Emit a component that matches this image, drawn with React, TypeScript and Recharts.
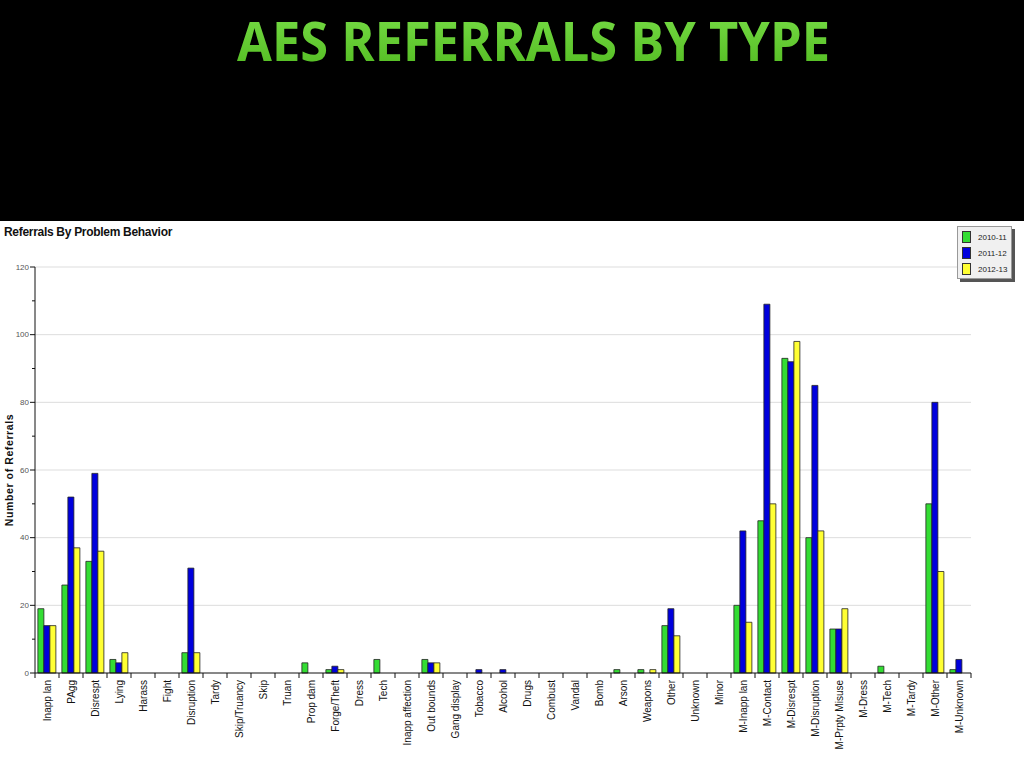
import { Bar, BarChart, CartesianGrid, Legend, XAxis, YAxis } from "recharts";

const categories = [
  "Inapp lan", "PAgg", "Disrespt", "Lying", "Harass", "Fight", "Disruption", "Tardy",
  "Skip/Truancy", "Skip", "Truan", "Prop dam", "Forge/Theft", "Dress", "Tech",
  "Inapp affection", "Out bounds", "Gang display", "Tobacco", "Alcohol", "Drugs",
  "Combust", "Vandal", "Bomb", "Arson", "Weapons", "Other", "Unknown", "Minor",
  "M-Inapp lan", "M-Contact", "M-Disrespt", "M-Disruption", "M-Prpty Misuse",
  "M-Dress", "M-Tech", "M-Tardy", "M-Other", "M-Unknown",
];

const y2010 = [19, 26, 33, 4, 0, 0, 6, 0, 0, 0, 0, 3, 1, 0, 4, 0, 4, 0, 0, 0, 0, 0, 0, 0, 1, 1, 14, 0, 0, 20, 45, 93, 40, 13, 0, 2, 0, 50, 1];
const y2011 = [14, 52, 59, 3, 0, 0, 31, 0, 0, 0, 0, 0, 2, 0, 0, 0, 3, 0, 1, 1, 0, 0, 0, 0, 0, 0, 19, 0, 0, 42, 109, 92, 85, 13, 0, 0, 0, 80, 4];
const y2012 = [14, 37, 36, 6, 0, 0, 6, 0, 0, 0, 0, 0, 1, 0, 0, 0, 3, 0, 0, 0, 0, 0, 0, 0, 0, 1, 11, 0, 0, 15, 50, 98, 42, 19, 0, 0, 0, 30, 0];

const seriesNames = ["2010-11", "2011-12", "2012-13"];
const seriesColors = ["#33dd33", "#0000dd", "#ffff33"];
const yTicks = [0, 10, 20, 30, 40, 50, 60, 70, 80, 90, 100, 110, 120];
const gridValues = [20, 40, 60, 80, 100, 120];

const data = categories.map((name, i) => ({
  name,
  a: y2010[i],
  b: y2011[i],
  c: y2012[i],
}));

const W = 1024;
const H = 547;
const TOP = 46;
const LEFT = 35;
const RIGHT = 53;
const BOTTOM_AXIS = 95;
const plotBottom = H - BOTTOM_AXIS;
const band = (W - LEFT - RIGHT) / categories.length;
const font = "'Liberation Sans', Arial, sans-serif";

function XTick(props: any) {
  const { x, payload, index } = props;
  const y = plotBottom;
  const last = index === categories.length - 1;
  return (
    <g>
      <line x1={x - band / 2} x2={x - band / 2} y1={y} y2={y + 5} stroke="#111" />
      {last && <line x1={x + band / 2} x2={x + band / 2} y1={y} y2={y + 5} stroke="#111" />}
      <text
        x={x}
        y={y + 7}
        dy="0.35em"
        transform={`rotate(-90, ${x}, ${y + 7})`}
        textAnchor="end"
        fontSize={10}
        fontFamily={font}
        fill="#111"
      >
        {payload.value}
      </text>
    </g>
  );
}

function YTick(props: any) {
  const { y, payload } = props;
  const major = payload.value % 20 === 0;
  return (
    <g>
      <line x1={major ? LEFT - 5 : LEFT - 3} x2={LEFT} y1={y} y2={y} stroke="#111" />
      {major && (
        <text x={LEFT - 6} y={y} dy="0.35em" textAnchor="end" fontSize={8} fontFamily={font} fill="#555">
          {payload.value}
        </text>
      )}
    </g>
  );
}

function YLabel() {
  const cy = (TOP + plotBottom) / 2;
  return (
    <text
      x={9}
      y={cy}
      dy="0.35em"
      transform={`rotate(-90, 9, ${cy})`}
      textAnchor="middle"
      fontFamily={font}
      fontWeight={700}
      fontSize={10.5}
      letterSpacing={0.6}
      fill="#111"
    >
      Number of Referrals
    </text>
  );
}

function LegendBox() {
  return (
    <div style={{ position: "relative", width: 55, height: 53 }}>
      <div style={{ position: "absolute", left: 3, top: 3, width: 55, height: 53, background: "#555" }} />
      <div
        style={{
          position: "absolute",
          left: 0,
          top: 0,
          width: 53,
          height: 51,
          background: "#f0f0f0",
          border: "1px solid #999",
          fontFamily: font,
          fontSize: 8,
          color: "#222",
        }}
      >
        {seriesNames.map((n, i) => (
          <div key={n} style={{ position: "absolute", left: 4, top: 4 + i * 16, display: "flex", alignItems: "center" }}>
            <span style={{ width: 7, height: 10, background: seriesColors[i], border: "1px solid #333", display: "inline-block" }} />
            <span style={{ marginLeft: 7 }}>{n}</span>
          </div>
        ))}
      </div>
    </div>
  );
}

export default function App() {
  return (
    <div style={{ position: "absolute", left: 0, top: 0, width: 1024, height: 768, background: "#000", overflow: "hidden" }}>
      <svg width={1024} height={221} style={{ position: "absolute", left: 0, top: 0 }}>
        <defs>
          <linearGradient id="tg" x1="0" y1="0" x2="0" y2="1">
            <stop offset="0" stopColor="#7be04a" />
            <stop offset="1" stopColor="#4fb81e" />
          </linearGradient>
        </defs>
        <text
          x={237}
          y={61}
          fontFamily="'Open Sans', sans-serif"
          fontWeight={700}
          fontSize={54}
          textLength={593}
          lengthAdjust="spacingAndGlyphs"
          fill="url(#tg)"
        >
          AES REFERRALS BY TYPE
        </text>
      </svg>
      <div style={{ position: "absolute", left: 0, top: 221, width: W, height: H, background: "#fff" }}>
        <div style={{ position: "absolute", left: 4, top: 4, fontFamily: font, fontWeight: 700, fontSize: 12, color: "#111", letterSpacing: -0.3 }}>
          Referrals By Problem Behavior
        </div>
        <BarChart
          width={W}
          height={H}
          data={data}
          margin={{ top: TOP, right: RIGHT, bottom: 0, left: 0 }}
          barCategoryGap="12%"
          barGap={0}
        >
          <CartesianGrid horizontal vertical={false} horizontalValues={gridValues} stroke="#dddddd" />
          <XAxis
            dataKey="name"
            interval={0}
            height={BOTTOM_AXIS}
            tickLine={false}
            tickSize={0}
            tickMargin={0}
            axisLine={{ stroke: "#111" }}
            tick={<XTick />}
          />
          <YAxis
            width={LEFT}
            domain={[0, 120]}
            ticks={yTicks}
            interval={0}
            tickLine={false}
            axisLine={{ stroke: "#111" }}
            tick={<YTick />}
            label={<YLabel />}
          />
          <Legend
            layout="vertical"
            align="center"
            verticalAlign="middle"
            content={() => <LegendBox />}
            wrapperStyle={{ position: "absolute", left: 957, top: 5, width: 58, height: 56 }}
          />
          <Bar dataKey="a" name={seriesNames[0]} fill={seriesColors[0]} stroke="#222" strokeWidth={0.8} isAnimationActive={false} />
          <Bar dataKey="b" name={seriesNames[1]} fill={seriesColors[1]} stroke="#222" strokeWidth={0.8} isAnimationActive={false} />
          <Bar dataKey="c" name={seriesNames[2]} fill={seriesColors[2]} stroke="#222" strokeWidth={0.8} isAnimationActive={false} />
        </BarChart>
      </div>
    </div>
  );
}
